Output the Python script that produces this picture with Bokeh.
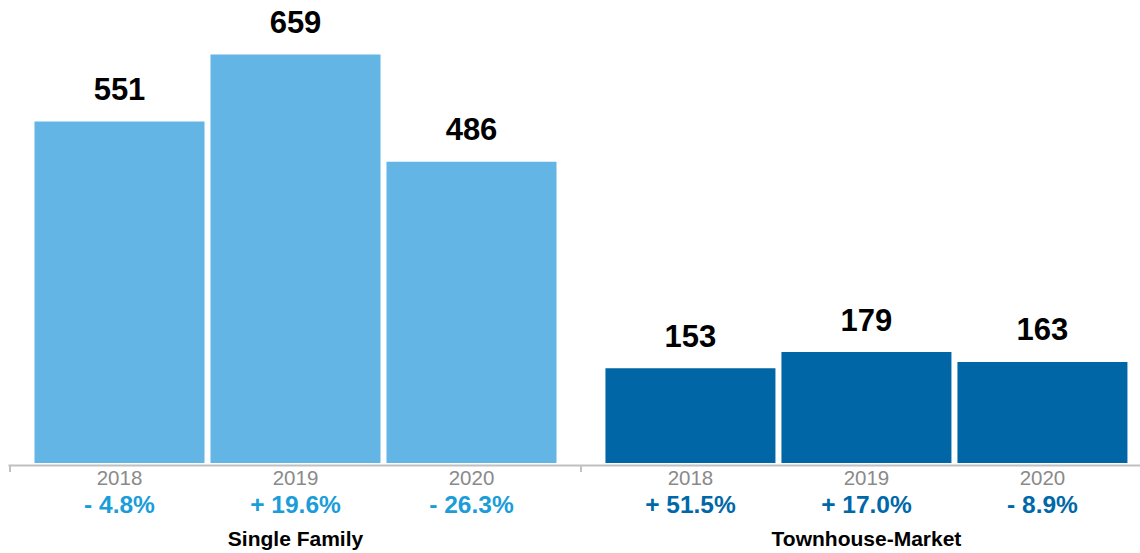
from bokeh.plotting import figure
from bokeh.models import Range1d, ColumnDataSource
from bokeh.core.properties import value
from bokeh.embed import file_html
from bokeh.resources import INLINE

# ---- data ----
groups = ["Single Family", "Townhouse-Market"]
years = ["2018", "2019", "2020"]
single_family = [551, 659, 486]
townhouse = [153, 179, 163]
sf_change = ["- 4.8%", "+ 19.6%", "- 26.3%"]
th_change = ["+ 51.5%", "+ 17.0%", "- 8.9%"]
bar_colors = ["#63b5e5", "#0066a6"]
change_colors = ["#1a9dd9", "#0068a8"]

series = [single_family, townhouse]
changes = [sf_change, th_change]

# ---- layout (pixels) ----
W, H = 1140, 553
BASE = 462.5        # baseline distance from top of canvas
K = 0.62            # pixels per unit
UNIT = 176          # pixels per bar slot
LEFT = 119          # pixels from canvas left to first bar centre
GAP = 0.244         # extra gap between groups (slots)
FONT = "Liberation Sans"

xs, tops, cols, yrs, chg, chg_cols = [], [], [], [], [], []
for g, vals in enumerate(series):
    for i, v in enumerate(vals):
        xs.append(g * (len(years) + GAP) + i)
        tops.append(v)
        cols.append(bar_colors[g])
        yrs.append(years[i])
        chg.append(changes[g][i])
        chg_cols.append(change_colors[g])

src = ColumnDataSource(dict(x=xs, top=tops, color=cols, year=yrs, chg=chg,
                            chg_color=chg_cols, label=[str(t) for t in tops],
                            label_y=[t + 32.5 / K for t in tops]))

p = figure(width=W, height=H,
           x_range=Range1d(-LEFT / UNIT, (W - LEFT) / UNIT),
           y_range=Range1d(-(H - BASE) / K, BASE / K),
           x_axis_location=None, y_axis_location=None,
           toolbar_location=None, output_backend="svg",
           min_border=0, outline_line_color=None)
p.grid.visible = False
p.background_fill_color = "white"
p.border_fill_color = "white"

p.vbar(x="x", top="top", bottom=0, width=170 / UNIT, fill_color="color",
       line_color=None, source=src)

# axis line and ticks
axis_y = -2.5 / K
p.segment(x0=[p.x_range.start + 8 / UNIT], y0=[axis_y], x1=[p.x_range.end + 1], y1=[axis_y],
          line_color="#c0c0c0", line_width=2)
tick_x = [g * (len(years) + GAP) - 0.5 - GAP / 2 for g in range(len(groups) + 1)]
p.segment(x0=tick_x, y0=[axis_y] * len(tick_x), x1=tick_x, y1=[-9 / K] * len(tick_x),
          line_color="#c0c0c0", line_width=2)

# value labels
p.text(x="x", y="label_y", text="label", source=src, text_align="center",
       text_baseline="alphabetic", text_font=value(FONT), text_font_style="bold",
       text_font_size="31px", text_color="#000000")

# year labels
p.text(x="x", y=-14.5 / K, text="year", source=src, text_align="center",
       text_baseline="alphabetic", text_font=value(FONT),
       text_font_size="20.5px", text_color="#8a8a8a")

# change labels
p.text(x="x", y=-41 / K, text="chg", source=src, text_align="center",
       text_baseline="alphabetic", text_font=value(FONT), text_font_style="bold",
       text_font_size="24.5px", text_color="chg_color")

# group labels
gx = [g * (len(years) + GAP) + (len(years) - 1) / 2 for g in range(len(groups))]
p.text(x=gx, y=[-75 / K] * len(groups), text=groups, text_align="center",
       text_baseline="alphabetic", text_font=value(FONT), text_font_style="bold",
       text_font_size="21px", text_color="#000000")

open("out.html", "w").write(file_html(p, INLINE))
